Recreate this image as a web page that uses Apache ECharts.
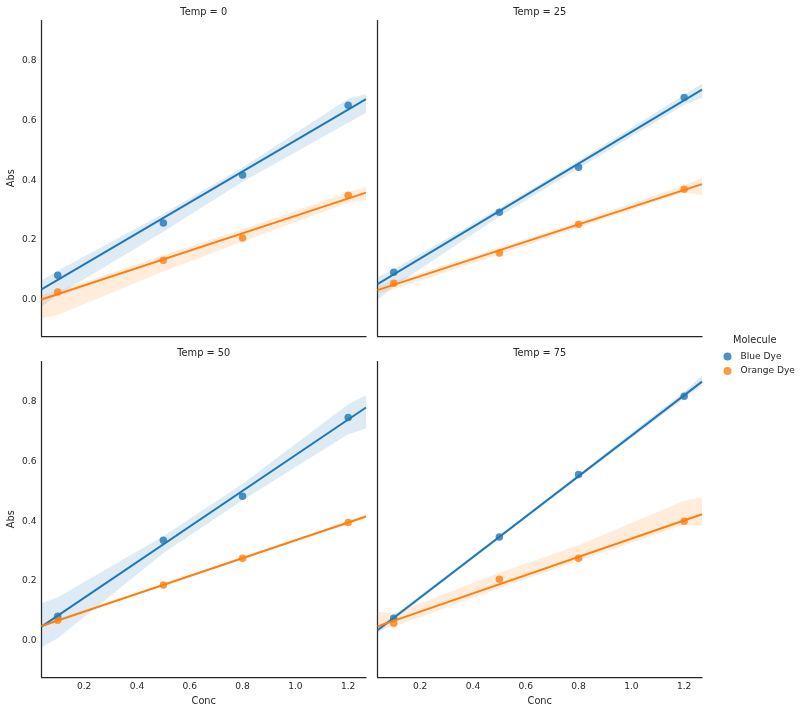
<!DOCTYPE html>
<html>
<head>
<meta charset="utf-8">
<script src="https://cdn.jsdelivr.net/npm/echarts@6/dist/echarts.min.js"></script>
<style>
html,body{margin:0;padding:0;background:#fff;}
#c{width:808px;height:712px;}
</style>
</head>
<body>
<div id="c"></div>
<script>
// ---- data ----
const temps = [0, 25, 50, 75];
const molecules = ['Blue Dye', 'Orange Dye'];
const conc = [0.1, 0.5, 0.8, 1.2];
const blueAbs = [
  [0.083, 0.257, 0.417, 0.650],
  [0.093, 0.293, 0.443, 0.676],
  [0.083, 0.336, 0.483, 0.746],
  [0.076, 0.347, 0.556, 0.817]
];
const orangeAbs = [
  [0.027, 0.133, 0.207, 0.350],
  [0.056, 0.157, 0.253, 0.370],
  [0.069, 0.187, 0.276, 0.396],
  [0.059, 0.206, 0.276, 0.400]
];
// confidence band edges at these Conc values
const bandX = [0.0385, 0.1, 0.5, 0.8, 1.2, 1.2675];
const blueUpper = [
  [0.065, 0.098, 0.288, 0.442, 0.672, 0.688],
  [0.076, 0.103, 0.306, 0.465, 0.685, 0.722],
  [0.126, 0.146, 0.350, 0.525, 0.790, 0.820],
  [0.047, 0.085, 0.353, 0.557, 0.832, 0.886]
];
const blueLower = [
  [-0.022, 0.017, 0.228, 0.395, 0.592, 0.625],
  [0.000, 0.045, 0.279, 0.440, 0.652, 0.675],
  [-0.021, 0.009, 0.293, 0.470, 0.690, 0.709],
  [0.024, 0.070, 0.342, 0.544, 0.810, 0.852]
];
const orangeUpper = [
  [0.017, 0.030, 0.150, 0.236, 0.360, 0.377],
  [0.047, 0.062, 0.175, 0.262, 0.383, 0.407],
  [0.056, 0.073, 0.191, 0.280, 0.400, 0.424],
  [0.098, 0.092, 0.228, 0.320, 0.468, 0.481]
];
const orangeLower = [
  [-0.061, -0.050, 0.095, 0.195, 0.325, 0.334],
  [0.022, 0.036, 0.152, 0.242, 0.360, 0.350],
  [0.044, 0.064, 0.184, 0.273, 0.391, 0.409],
  [0.037, 0.048, 0.176, 0.268, 0.388, 0.385]
];
const xTicks = [0.2, 0.4, 0.6, 0.8, 1.0, 1.2];
const yTicks = [0.0, 0.2, 0.4, 0.6, 0.8];

// ---- styling ----
const colors = ['#1f77b4', '#ff7f0e'];
const bandColors = ['rgba(31,119,180,0.15)', 'rgba(255,127,14,0.15)'];
const txt = '#262626';
const font = 'DejaVu Sans';
const X_MIN = 0.0385, X_MAX = 1.2675, Y_MIN = -0.12, Y_MAX = 0.933;
const panels = [
  {left: 41.5, top: 20.5},
  {left: 377.5, top: 20.5},
  {left: 41.5, top: 361.5},
  {left: 377.5, top: 361.5}
];
const PW = 324.5, PH = 315.5;

function fit(xs, ys) {
  const n = xs.length;
  const mx = xs.reduce((a, b) => a + b, 0) / n;
  const my = ys.reduce((a, b) => a + b, 0) / n;
  let sxy = 0, sxx = 0;
  for (let i = 0; i < n; i++) { sxy += (xs[i] - mx) * (ys[i] - my); sxx += (xs[i] - mx) ** 2; }
  const b = sxy / sxx;
  return {b: b, a: my - b * mx};
}

const grids = [], xAxes = [], yAxes = [], series = [], titles = [];
panels.forEach((p, i) => {
  const bottomRow = i >= 2, leftCol = i % 2 === 0;
  grids.push({left: p.left, top: p.top, width: PW, height: PH, containLabel: false});
  titles.push({
    text: 'Temp = ' + temps[i],
    left: p.left + PW / 2, top: p.top - 13.5, textAlign: 'center', padding: 0,
    textStyle: {fontSize: 9.8, fontWeight: 'normal', color: txt, fontFamily: font}
  });
  xAxes.push({
    type: 'value', gridIndex: i, min: X_MIN, max: X_MAX,
    axisLine: {show: true, onZero: false, lineStyle: {color: txt, width: 1.25}},
    axisTick: {show: false},
    splitLine: {show: false},
    axisLabel: {
      show: bottomRow, customValues: xTicks, margin: 5,
      formatter: v => v.toFixed(1), fontSize: 9.1, color: txt, fontFamily: font
    },
    name: bottomRow ? 'Conc' : '', nameLocation: 'middle', nameGap: 19,
    nameTextStyle: {fontSize: 9.8, color: txt, fontFamily: font}
  });
  yAxes.push({
    type: 'value', gridIndex: i, min: Y_MIN, max: Y_MAX,
    axisLine: {show: true, onZero: false, lineStyle: {color: txt, width: 1.25}},
    axisTick: {show: false},
    splitLine: {show: false},
    axisLabel: {
      show: leftCol, customValues: yTicks, margin: 5,
      formatter: v => v.toFixed(1), fontSize: 9.1, color: txt, fontFamily: font
    },
    name: leftCol ? 'Abs' : '', nameLocation: 'middle', nameGap: 25,
    nameTextStyle: {fontSize: 9.8, color: txt, fontFamily: font}
  });

  const sets = [
    {ys: blueAbs[i], up: blueUpper[i], lo: blueLower[i]},
    {ys: orangeAbs[i], up: orangeUpper[i], lo: orangeLower[i]}
  ];
  sets.forEach((s, k) => {
    // confidence band
    series.push({
      type: 'custom', xAxisIndex: i, yAxisIndex: i, z: 1, silent: true,
      clip: true,
      data: [[bandX[0], s.lo[0]]],
      renderItem: function (params, api) {
        const pts = [];
        for (let j = 0; j < bandX.length; j++) pts.push(api.coord([bandX[j], s.up[j]]));
        for (let j = bandX.length - 1; j >= 0; j--) pts.push(api.coord([bandX[j], s.lo[j]]));
        return {type: 'polygon', shape: {points: pts}, style: {fill: bandColors[k], stroke: 'none'}};
      }
    });
    // scatter points
    series.push({
      type: 'scatter', name: molecules[k], xAxisIndex: i, yAxisIndex: i, z: 2,
      symbolSize: 7.5,
      itemStyle: {color: colors[k], opacity: 0.8},
      data: conc.map((c, j) => [c, s.ys[j]])
    });
    // regression line
    const f = fit(conc, s.ys);
    series.push({
      type: 'line', xAxisIndex: i, yAxisIndex: i, z: 3, silent: true,
      symbol: 'none', lineStyle: {color: colors[k], width: 2},
      data: [[X_MIN, f.a + f.b * X_MIN], [X_MAX, f.a + f.b * X_MAX]]
    });
  });
});

const chart = echarts.init(document.getElementById('c'), null, {renderer: 'canvas'});
chart.setOption({
  animation: false,
  backgroundColor: '#ffffff',
  textStyle: {fontFamily: font},
  title: titles,
  grid: grids,
  xAxis: xAxes,
  yAxis: yAxes,
  legend: {
    data: molecules, orient: 'vertical', left: 718.5, top: 347,
    icon: 'circle', itemWidth: 8, itemHeight: 8, itemGap: 5.5, selectedMode: false,
    textStyle: {fontSize: 9.1, color: txt, fontFamily: font, padding: [0, 0, 0, 4]}
  },
  graphic: [{
    type: 'text', left: 733, top: 335,
    style: {text: 'Molecule', fontSize: 9.8, fill: txt, fontFamily: font}
  }],
  series: series
});
</script>
</body>
</html>
